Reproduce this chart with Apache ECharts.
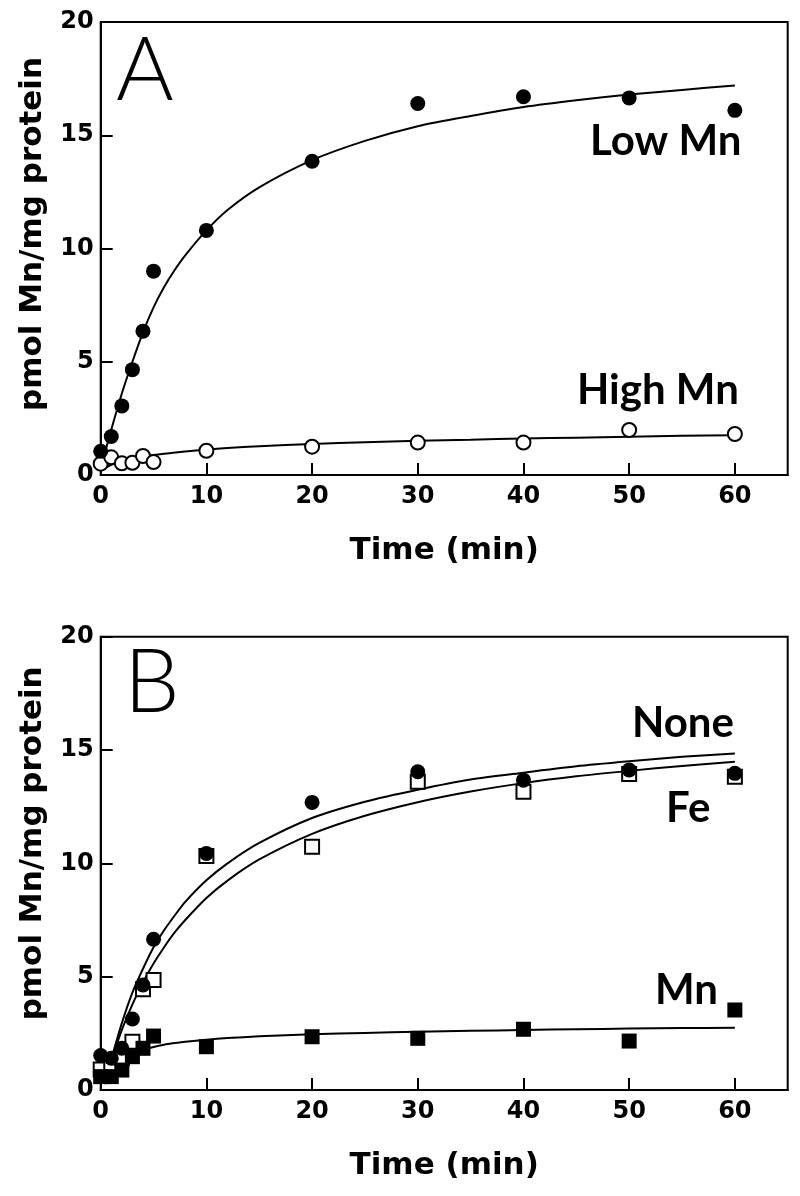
<!DOCTYPE html>
<html>
<head>
<meta charset="utf-8">
<script src="https://cdn.jsdelivr.net/npm/echarts@6/dist/echarts.min.js"></script>
<style>
html,body{margin:0;padding:0;background:#fff;}
#chart{width:800px;height:1196px;}
</style>
</head>
<body>
<div id="chart"></div>
<script>
// ---- Data ----
const timePts = [0, 1, 2, 3, 4, 5, 10, 20, 30, 40, 50, 60];
// Panel A: measured points
const lowMn  = [1.05, 1.7, 3.05, 4.65, 6.35, 9.0, 10.8, 13.85, 16.4, 16.7, 16.65, 16.1];
const highMn = [0.5, 0.78, 0.52, 0.54, 0.84, 0.57, 1.07, 1.25, 1.43, 1.43, 1.99, 1.81];
// Fitted curves
const curveT    = [0, 1, 2, 3, 4, 5, 6, 7, 8, 10, 12, 15, 20, 25, 30, 35, 40, 45, 50, 55, 60];
const lowCurve  = [0.3, 2.0, 3.6, 5.0, 6.3, 7.4, 8.3, 9.05, 9.7, 10.8, 11.7, 12.7, 13.9, 14.75, 15.4, 15.85, 16.25, 16.55, 16.8, 17.0, 17.2];
const highCurve = [0.2, 0.45, 0.6, 0.71, 0.8, 0.88, 0.94, 0.99, 1.04, 1.12, 1.19, 1.27, 1.37, 1.45, 1.51, 1.56, 1.61, 1.65, 1.69, 1.73, 1.76];
// Panel B: measured points
const noneB = [1.52, 1.4, 1.84, 3.13, 4.63, 6.65, 10.44, 12.69, 14.04, 13.67, 14.12, 13.97];
const feB   = [0.9, 1.1, 1.41, 2.13, 4.44, 4.85, 10.32, 10.73, 13.6, 13.16, 13.94, 13.82];
const mnB   = [0.59, 0.59, 0.88, 1.47, 1.84, 2.38, 1.91, 2.35, 2.28, 2.68, 2.16, 3.53];
// Panel B curves
const curveTB   = [1, 2, 3, 4, 5, 6, 7, 8, 10, 12, 15, 20, 25, 30, 35, 40, 45, 50, 55, 60];
const noneCurve = [1.35, 2.95, 4.3, 5.35, 6.3, 7.05, 7.7, 8.3, 9.25, 10.0, 10.9, 12.0, 12.72, 13.25, 13.7, 14.0, 14.28, 14.5, 14.7, 14.85];
const feCurve   = [1.3, 2.65, 3.78, 4.75, 5.58, 6.3, 6.95, 7.5, 8.47, 9.24, 10.17, 11.3, 12.1, 12.7, 13.17, 13.54, 13.84, 14.08, 14.3, 14.48];
const mnCurve   = [0.5, 1.0, 1.35, 1.6, 1.77, 1.9, 2.0, 2.07, 2.13, 2.22, 2.29, 2.37, 2.46, 2.52, 2.57, 2.61, 2.65, 2.68, 2.71, 2.73, 2.75];
const xTicks = [0, 10, 20, 30, 40, 50, 60];
const yTicks = [0, 5, 10, 15, 20];
const xTitle = 'Time (min)';
const yTitle = 'pmol Mn/mg protein';

function pairs(xs, ys) { return xs.map((x, i) => [x, ys[i]]); }

const chart = echarts.init(document.getElementById('chart'), null, {renderer: 'canvas'});
const tickFont = {fontFamily: 'DejaVu Sans', fontWeight: 'bold', fontSize: 24, color: '#000'};
const titleFont = {fontFamily: 'DejaVu Sans', fontWeight: 'bold', fontSize: 31, color: '#000'};
const lblFont = 'Lato';

function xAxisDef(gi) {
  return {
    type: 'value', gridIndex: gi, min: 0, max: 65, interval: 10,
    name: xTitle, nameLocation: 'middle', nameGap: 60,
    nameTextStyle: titleFont,
    axisLine: {show: true, onZero: false, lineStyle: {color: '#000', width: 2}},
    axisTick: {show: true, inside: true, length: 12, lineStyle: {color: '#000', width: 2}},
    axisLabel: Object.assign({margin: 10, showMaxLabel: false,
      formatter: v => xTicks.includes(v) ? String(v) : ''}, tickFont),
    splitLine: {show: false}
  };
}
function yAxisDef(gi, pad) {
  return {
    type: 'value', gridIndex: gi, min: 0, max: 20, interval: 5,
    name: yTitle, nameLocation: 'middle', nameGap: 52,
    nameTextStyle: Object.assign({padding: [0, 0, 0, pad]}, titleFont),
    axisLine: {show: true, onZero: false, lineStyle: {color: '#000', width: 2}},
    axisTick: {show: true, inside: true, length: 12, lineStyle: {color: '#000', width: 2}},
    axisLabel: Object.assign({margin: 7,
      formatter: v => yTicks.includes(v) ? String(v) : ''}, tickFont),
    splitLine: {show: false}
  };
}
function curve(xi, xs, ys) {
  return {type: 'line', xAxisIndex: xi, yAxisIndex: xi, data: pairs(xs, ys),
    smooth: 0.25, showSymbol: false, symbol: 'none',
    lineStyle: {color: '#000', width: 2}, z: 2, silent: true};
}
function pts(xi, ys, symbol, size, filled, z) {
  return {type: 'scatter', xAxisIndex: xi, yAxisIndex: xi, data: pairs(timePts, ys),
    symbol: symbol, symbolSize: size, z: z,
    itemStyle: filled ? {color: '#000', opacity: 1} :
      {color: '#fff', borderColor: '#000', borderWidth: 2, opacity: 1}};
}

const option = {
  backgroundColor: '#fff',
  animation: false,
  grid: [
    {left: 100.7, right: 12.3, top: 22, height: 453, show: true, borderColor: '#000', borderWidth: 2, backgroundColor: 'transparent'},
    {left: 100.7, right: 12.3, top: 636.7, height: 453.3, show: true, borderColor: '#000', borderWidth: 2, backgroundColor: 'transparent'}
  ],
  xAxis: [xAxisDef(0), xAxisDef(1)],
  yAxis: [yAxisDef(0, 29), yAxisDef(1, 40)],
  series: [
    curve(0, curveT, lowCurve),
    curve(0, curveT, highCurve),
    pts(0, highMn, 'circle', 14, false, 5),
    pts(0, lowMn, 'circle', 15, true, 6),
    curve(1, curveTB, noneCurve),
    curve(1, curveTB, feCurve),
    curve(1, curveT, mnCurve),
    pts(1, feB, 'rect', 14, false, 5),
    pts(1, mnB, 'rect', 15, true, 6),
    pts(1, noneB, 'circle', 15, true, 7)
  ],
  graphic: [
    {type: 'text', left: 116, top: 28, style: {text: 'A', font: '300 88px Lato', fill: '#000'}},
    {type: 'text', left: 124, top: 640, style: {text: 'B', font: '300 88px Lato', fill: '#000'}},
    {type: 'text', left: 590, top: 120, style: {text: 'Low Mn', font: 'bold 42px ' + lblFont, fill: '#000'}},
    {type: 'text', left: 577, top: 369, style: {text: 'High Mn', font: 'bold 42px ' + lblFont, fill: '#000'}},
    {type: 'text', left: 632, top: 702, style: {text: 'None', font: 'bold 42px ' + lblFont, fill: '#000'}},
    {type: 'text', left: 666, top: 787, style: {text: 'Fe', font: 'bold 42px ' + lblFont, fill: '#000'}},
    {type: 'text', left: 655, top: 969, style: {text: 'Mn', font: 'bold 42px ' + lblFont, fill: '#000'}}
  ]
};
chart.setOption(option);
</script>
</body>
</html>
